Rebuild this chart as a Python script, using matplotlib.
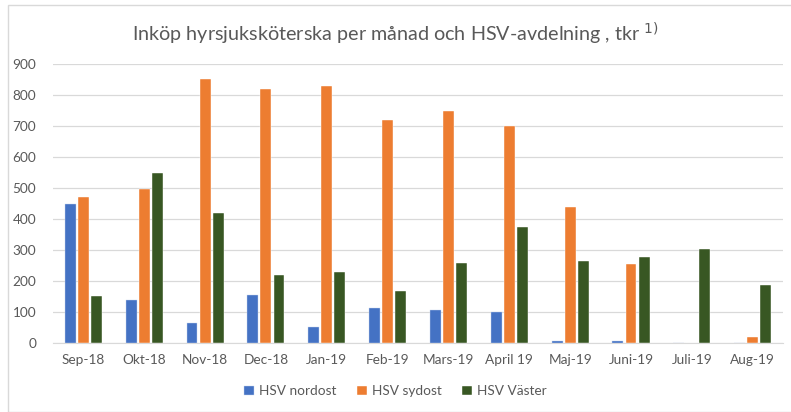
import matplotlib.pyplot as plt
import numpy as np
from matplotlib.patches import Rectangle

months = ["Sep-18", "Okt-18", "Nov-18", "Dec-18", "Jan-19", "Feb-19",
          "Mars-19", "April 19", "Maj-19", "Juni-19", "Juli-19", "Aug-19"]
nordost = [448, 140, 65, 155, 53, 113, 108, 100, 5, 5, 0, 0]
sydost = [472, 498, 852, 820, 830, 720, 750, 700, 438, 255, 0, 20]
vaster = [152, 550, 420, 220, 230, 168, 258, 373, 265, 277, 302, 187]

plt.rcParams['font.family'] = ['Lato', 'DejaVu Sans']

fig = plt.figure(figsize=(7.91, 4.12), dpi=100)
ax = fig.add_axes([0.067, 0.1675, 0.923, 0.677])

# light frame around the chart
fig.patches.append(Rectangle((8 / 791, 0), 1, 1 - 5 / 412, transform=fig.transFigure,
                             fill=False, edgecolor='#d9d9d9', lw=1))

x = np.arange(len(months))
w = 0.18
step = 0.215
ax.bar(x - step, nordost, w, color='#4472C4', edgecolor='#c9d5ee', lw=0.3, label='HSV nordost', zorder=3)
ax.bar(x, sydost, w, color='#ED7D31', edgecolor='white', lw=0.3, label='HSV sydost', zorder=3)
ax.bar(x + step, vaster, w, color='#385723', edgecolor='white', lw=0.3, label='HSV Väster', zorder=3)

ax.set_xlim(-0.5, 11.5)
ax.set_ylim(0, 900)
ax.set_yticks(range(0, 901, 100))
ax.set_xticks(x)
ax.set_xticklabels(months)
ax.tick_params(colors='#595959', labelsize=9.8, length=0)
ax.tick_params(axis='x', pad=8)
ax.tick_params(axis='y', pad=12)
ax.grid(axis='y', color='#d9d9d9', lw=0.9, zorder=0)
for s in ['top', 'right', 'left']:
    ax.spines[s].set_visible(False)
ax.spines['bottom'].set_color('#d9d9d9')

fig.text(0.5, 0.918, "Inköp hyrsjuksköterska per månad och HSV-avdelning , tkr $^{1)}$",
         ha='center', va='center', fontsize=14.2, color='#595959')

fig.legend(loc='center', bbox_to_anchor=(0.5, 0.05), ncol=3, frameon=False,
           fontsize=9.8, labelcolor='#595959', handlelength=0.7, handleheight=0.7,
           columnspacing=1.5, handletextpad=0.4)

fig.savefig('out.png', dpi=100)
